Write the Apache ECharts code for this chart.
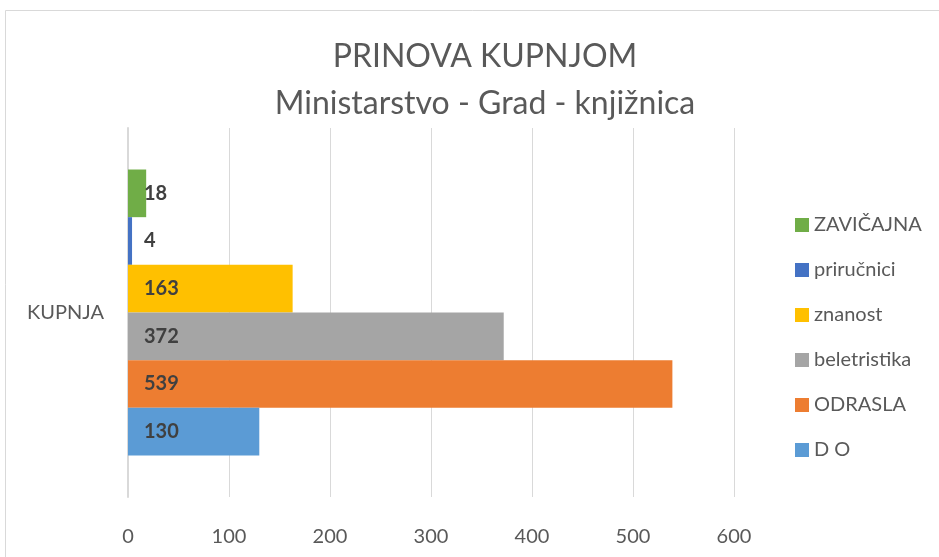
<!DOCTYPE html>
<html>
<head>
<meta charset="utf-8">
<script src="https://cdn.jsdelivr.net/npm/echarts@6/dist/echarts.min.js"></script>
<style>
html,body{margin:0;padding:0;background:#fff;}
#chart{width:939px;height:557px;}
</style>
</head>
<body>
<div id="chart"></div>
<script>
const categories = ['KUPNJA'];
const seriesNames = ['D O', 'ODRASLA', 'beletristika', 'znanost', 'priručnici', 'ZAVIČAJNA'];
const seriesValues = [[130], [539], [372], [163], [4], [18]];
const seriesColors = ['#5B9BD5', '#ED7D31', '#A5A5A5', '#FFC000', '#4472C4', '#70AD47'];
const titleText = 'PRINOVA KUPNJOM\nMinistarstvo - Grad - knjižnica';

const FONT = 'Lato, "Noto Sans", sans-serif';
const chart = echarts.init(document.getElementById('chart'));

// ECharts stacks the first series at the top of a horizontal band, so add them in reverse
const series = seriesNames.map((name, i) => ({
  name: name,
  type: 'bar',
  data: seriesValues[i],
  itemStyle: { color: seriesColors[i] },
  barGap: '0%',
  barCategoryGap: '22.5%',
  label: {
    show: true,
    position: 'insideLeft',
    distance: 16,
    color: '#404040',
    fontWeight: 'bold',
    fontSize: 20,
    fontFamily: FONT
  }
})).reverse();

chart.setOption({
  animation: false,
  backgroundColor: '#fff',
  graphic: [{
    type: 'rect',
    shape: { x: 5.5, y: 10.5, width: 1000, height: 1000 },
    style: { fill: 'none', stroke: '#d9d9d9', lineWidth: 1 },
    silent: true
  }],
  title: {
    text: titleText,
    left: 480,
    top: 28,
    textAlign: 'center',
    textStyle: {
      fontFamily: FONT,
      fontSize: 32,
      fontWeight: 'normal',
      color: '#595959',
      lineHeight: 47
    }
  },
  legend: {
    data: seriesNames.slice().reverse(),
    orient: 'vertical',
    left: 795,
    top: 215,
    padding: 0,
    itemWidth: 14,
    itemHeight: 14,
    itemGap: 25,
    icon: 'rect',
    textStyle: { fontFamily: FONT, fontSize: 20, color: '#595959', lineHeight: 20 }
  },
  grid: { left: 128, right: 205, top: 128, bottom: 60, containLabel: false },
  xAxis: {
    type: 'value',
    min: 0,
    max: 600,
    interval: 100,
    axisLine: { show: false },
    axisTick: { show: false },
    splitLine: { show: true, lineStyle: { color: '#d9d9d9', width: 1 } },
    axisLabel: { margin: 30, color: '#595959', fontSize: 20, fontFamily: FONT }
  },
  yAxis: {
    type: 'category',
    data: categories,
    axisLine: { show: true, lineStyle: { color: '#d9d9d9', width: 2 } },
    axisTick: { show: false },
    axisLabel: { margin: 24, color: '#595959', fontSize: 20, fontFamily: FONT }
  },
  series: series
});
</script>
</body>
</html>
